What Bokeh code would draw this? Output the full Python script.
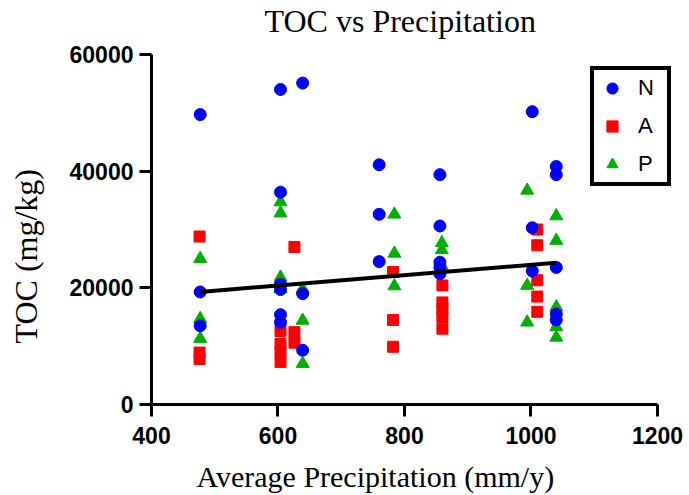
from bokeh.plotting import figure
from bokeh.models import Range1d, Legend, LegendItem, FixedTicker, Title
from bokeh.embed import file_html
from bokeh.resources import INLINE

# ---- data ----
n_x = [477, 477, 477, 604, 604, 604, 604, 604, 604, 639, 639, 639,
       760, 760, 760, 856, 856, 856, 856, 856, 1002, 1002, 1002,
       1040, 1040, 1040, 1040, 1040]
n_y = [49700, 19300, 13500, 54000, 36400, 20600, 19700, 15400, 14100,
       55100, 19000, 9300, 41100, 32600, 24500, 39400, 30600, 24400, 23500, 22400,
       50200, 30300, 22900, 40800, 39400, 23500, 15500, 14500]

a_x = [476, 476, 476, 604, 604, 604, 604, 626, 626, 626,
       782, 782, 782, 860, 860, 860, 860, 860, 1010, 1010, 1010, 1010, 1010]
a_y = [28800, 8900, 7800, 12600, 10400, 9000, 7300, 27000, 12400, 10600,
       22700, 14500, 9900, 20400, 17500, 16400, 15000, 13000,
       30000, 27300, 21300, 18500, 15900]

p_x = [477, 477, 477, 604, 604, 604, 604, 639, 639, 639,
       784, 784, 784, 859, 859, 859, 994, 994, 994,
       1040, 1040, 1040, 1040, 1040]
p_y = [25000, 14700, 11300, 34700, 32800, 21800, 19800, 19800, 14400, 7000,
       32600, 25900, 20300, 27700, 26500, 23800, 36700, 20400, 14100,
       32300, 28100, 16700, 13300, 11500]

fit_x = [477, 1040]
fit_y = [19300, 24300]

x_ticks = [400, 600, 800, 1000, 1200]
x_tick_labels = ["400", "600", "800", "1000", "1200"]
y_ticks = [0, 20000, 40000, 60000]
y_tick_labels = ["0", "20000", "40000", "60000"]

series_names = ["N", "A", "P"]

# ---- figure ----
# x range runs a little past the last tick so the legend can sit beyond it;
# the axis line itself is bounded to 400..1200
p = figure(width=689, height=495, output_backend="svg", toolbar_location=None,
           x_range=Range1d(400, 1236.4), y_range=Range1d(0, 60000),
           min_border_left=151, min_border_right=9,
           min_border_top=54, min_border_bottom=91)

p.outline_line_color = None
p.xgrid.visible = False
p.ygrid.visible = False
p.background_fill_color = "white"
p.border_fill_color = "white"

p.title.text = "TOC vs Precipitation"
p.title.align = "left"
p.title.offset = 113
p.title.text_font = "Liberation Serif"
p.title.text_font_style = "normal"
p.title.text_font_size = "32px"
p.title.text_color = "black"
p.title.standoff = 0

p.xaxis.ticker = FixedTicker(ticks=x_ticks)
p.yaxis.ticker = FixedTicker(ticks=y_ticks)
p.xaxis.major_label_overrides = dict(zip(x_ticks, x_tick_labels))
p.yaxis.major_label_overrides = dict(zip(y_ticks, y_tick_labels))
p.xaxis.bounds = (x_ticks[0], x_ticks[-1])

for ax in (p.xaxis, p.yaxis):
    ax.axis_line_width = 3
    ax.axis_line_color = "black"
    ax.major_tick_line_width = 3
    ax.major_tick_line_color = "black"
    ax.major_tick_out = 12
    ax.major_tick_in = 0
    ax.minor_tick_line_color = None
    ax.major_label_text_font = "Liberation Sans"
    ax.major_label_text_font_style = "bold"
    ax.major_label_text_font_size = "23px"
    ax.major_label_text_color = "black"
p.xaxis.major_label_standoff = 10
p.yaxis.major_label_standoff = 6

r_p = p.scatter(p_x, p_y, marker="triangle", size=13, color="#00b000")
r_a = p.scatter(a_x, a_y, marker="square", size=11, color="#ff0000")
r_n = p.scatter(n_x, n_y, marker="circle", size=12, color="#0000ff")

p.line(fit_x, fit_y, line_width=4, color="black")

legend = Legend(items=[LegendItem(label=series_names[0], renderers=[r_n]),
                       LegendItem(label=series_names[1], renderers=[r_a]),
                       LegendItem(label=series_names[2], renderers=[r_p])],
                location=(439, 218))
legend.margin = 0
legend.padding = 4
legend.spacing = 10
legend.glyph_width = 28
legend.glyph_height = 28
legend.label_standoff = 12
legend.label_width = 25
legend.label_height = 28
legend.label_text_font = "Liberation Sans"
legend.label_text_font_size = "22px"
legend.label_text_color = "black"
legend.border_line_color = "black"
legend.border_line_alpha = 1
legend.border_line_width = 4
legend.background_fill_color = "white"
legend.background_fill_alpha = 1
p.add_layout(legend)

# thin empty spacers to place the titles further from the frame
top_gap = Title(text=" ", text_font_size="1px", standoff=13)
bottom_gap = Title(text=" ", text_font_size="1px", standoff=8)
left_gap = Title(text=" ", text_font_size="1px", standoff=20)
p.add_layout(top_gap, "above")
p.add_layout(bottom_gap, "below")
p.add_layout(left_gap, "left")

xlab = Title(text="Average Precipitation (mm/y)", align="left", offset=45,
             text_font="Liberation Serif", text_font_style="normal",
             text_font_size="30px", text_color="black", standoff=0)
ylab = Title(text="TOC (mg/kg)", align="left", offset=61,
             text_font="Liberation Serif", text_font_style="normal",
             text_font_size="32px", text_color="black", standoff=0)
p.add_layout(xlab, "below")
p.add_layout(ylab, "left")

open("out.html", "w").write(file_html(p, INLINE))
